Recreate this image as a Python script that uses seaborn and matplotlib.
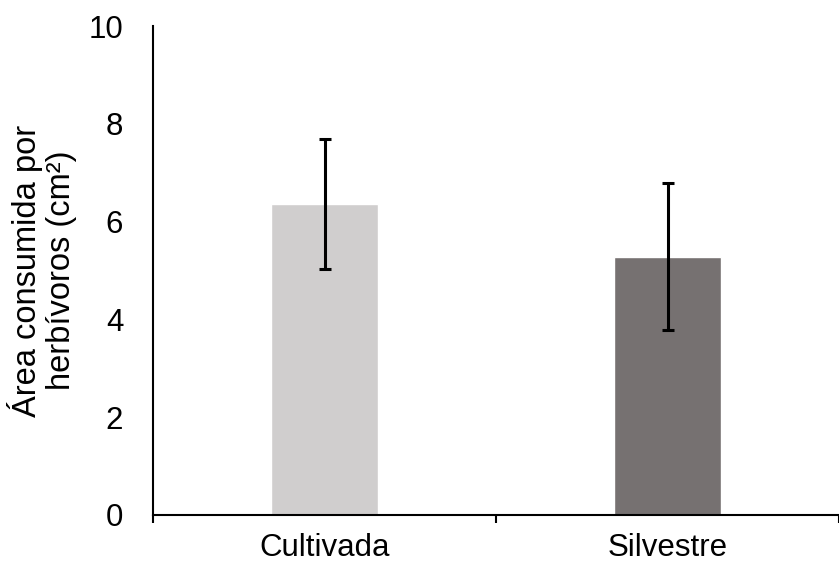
import matplotlib
matplotlib.use("Agg")
import matplotlib.pyplot as plt
import seaborn as sns
import pandas as pd
import numpy as np
from matplotlib.ticker import FixedLocator

categories = ["Cultivada", "Silvestre"]
means = [6.36, 5.28]
errors = [1.32, 1.50]
colors = ["#D0CECE", "#767171"]
yticks = [0, 2, 4, 6, 8, 10]

sns.set_style("white")
plt.rcParams["font.family"] = ["Liberation Sans", "DejaVu Sans"]
plt.rcParams["text.color"] = "black"
plt.rcParams["axes.labelcolor"] = "black"
plt.rcParams["xtick.color"] = "black"
plt.rcParams["ytick.color"] = "black"

df = pd.DataFrame({"cat": categories, "val": means})

fig = plt.figure(figsize=(8.39, 5.63), dpi=100)
ax = fig.add_axes([0.1824, 0.0853, 0.8176, 0.8685])

sns.barplot(data=df, x="cat", y="val", hue="cat", palette=colors, legend=False,
            errorbar=None, width=0.31, ax=ax, saturation=1)
ax.errorbar(x=np.arange(len(categories)), y=means, yerr=errors, fmt="none",
            ecolor="black", elinewidth=2.2, capsize=4.5, capthick=2.2, zorder=5)

ax.set_xlim(-0.5, 1.5)
ax.set_ylim(0, 10)
ax.set_yticks(yticks)
ax.set_yticklabels([str(t) for t in yticks])
ax.set_xlabel("")
ax.set_ylabel("Área consumida por\nherbívoros (cm²)", fontsize=23.5, labelpad=8,
              linespacing=1.12, color="black")

ax.xaxis.set_minor_locator(FixedLocator([-0.5, 0.5, 1.5]))
ax.tick_params(axis="x", which="major", length=0, labelsize=22.5, pad=13, labelcolor="black")
ax.tick_params(axis="x", which="minor", length=6, width=1.5, color="black", direction="out", bottom=True)
ax.tick_params(axis="y", which="major", length=0, labelsize=22.5, pad=21.5, labelcolor="black")

for s in ["top", "right"]:
    ax.spines[s].set_visible(False)
for s in ["left", "bottom"]:
    ax.spines[s].set_color("black")
    ax.spines[s].set_linewidth(1.5)

fig.savefig("out.png", dpi=100)
